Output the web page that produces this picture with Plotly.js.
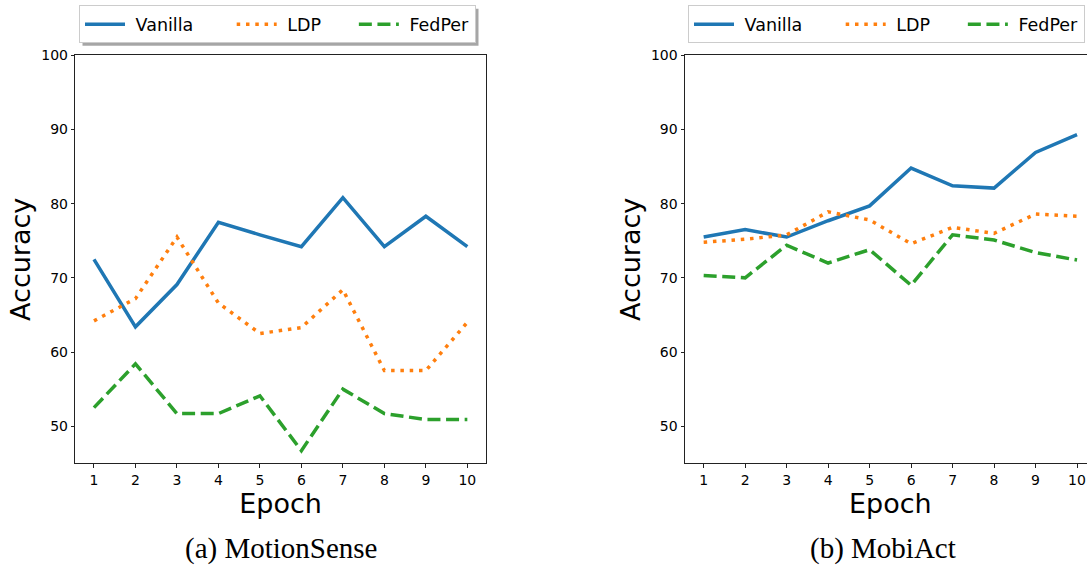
<!DOCTYPE html>
<html><head><meta charset="utf-8">
<script src="https://cdn.plot.ly/plotly-3.0.1.min.js"></script>
<style>html,body{margin:0;padding:0;overflow:hidden;background:#fff;width:1087px;height:567px}#chart{width:1100px;height:567px}</style>
</head><body><div id="chart"></div><script>
const epochs = [1, 2, 3, 4, 5, 6, 7, 8, 9, 10];
const seriesNames = ['Vanilla', 'LDP', 'FedPer'];
const motionVanilla = [72.5, 63.4, 69.1, 77.5, 75.8, 74.2, 80.8, 74.2, 78.3, 74.2];
const motionLDP = [64.2, 67.2, 75.5, 66.6, 62.5, 63.3, 68.4, 57.5, 57.5, 64.0];
const motionFedPer = [52.5, 58.4, 51.7, 51.7, 54.1, 46.7, 55.0, 51.7, 50.9, 50.9];
const mobiVanilla = [75.5, 76.5, 75.5, 77.7, 79.7, 84.8, 82.4, 82.1, 86.9, 89.3];
const mobiLDP = [74.8, 75.2, 75.8, 78.9, 77.8, 74.6, 76.8, 76.0, 78.6, 78.3];
const mobiFedPer = [70.3, 70.0, 74.4, 72.0, 73.8, 69.0, 75.8, 75.1, 73.4, 72.4];
const yTicks = [50, 60, 70, 80, 90, 100];
const captions = ['(a) MotionSense', '(b) MobiAct'];

const W = 1100, H = 567;
const colors = ['#1f77b4', '#ff7f0e', '#2ca02c'];
const dashes = ['solid', '3.5px,5.8px', '13px,5.6px'];
const NB = '\u00a0';
const padAfter = [NB.repeat(6), NB.repeat(5), ''];

function mk(x, ys, i, xa, ya, leg) {
  return {x: x, y: ys, type: 'scatter', mode: 'lines', name: NB + seriesNames[i] + padAfter[i],
    xaxis: xa, yaxis: ya, legend: leg,
    line: {color: colors[i], width: 3.5, dash: dashes[i]}};
}
const data = [
  mk(epochs, motionVanilla, 0, 'x', 'y', 'legend'),
  mk(epochs, motionLDP, 1, 'x', 'y', 'legend'),
  mk(epochs, motionFedPer, 2, 'x', 'y', 'legend'),
  mk(epochs, mobiVanilla, 0, 'x2', 'y2', 'legend2'),
  mk(epochs, mobiLDP, 1, 'x2', 'y2', 'legend2'),
  mk(epochs, mobiFedPer, 2, 'x2', 'y2', 'legend2')
];

const font = {family: 'DejaVu Sans', color: '#000'};
const yDom = [1 - 463.3 / H, 1 - 55.3 / H];
function xax(dom, anchor) {
  return {domain: dom, anchor: anchor, range: [0.55, 10.45], tickvals: epochs, ticks: 'outside',
    ticklen: 3.5, tickwidth: 1, tickcolor: '#222', showline: true, linecolor: '#222', linewidth: 1,
    mirror: true, showgrid: false, zeroline: false, tickfont: {family: 'DejaVu Sans', size: 14, color: '#000'},
    title: {text: 'Epoch', font: {family: 'DejaVu Sans', size: 27, color: '#000'}, standoff: 4}};
}
function yax(anchor) {
  return {domain: yDom, anchor: anchor, range: [45, 100], tickvals: yTicks, ticks: 'outside',
    ticklen: 3.5, tickwidth: 1, tickcolor: '#222', showline: true, linecolor: '#222', linewidth: 1,
    mirror: true, showgrid: false, zeroline: false, tickfont: {family: 'DejaVu Sans', size: 14, color: '#000'},
    title: {text: 'Accuracy', font: {family: 'DejaVu Sans', size: 27, color: '#000'}, standoff: 2}};
}
function leg(xpx) {
  return {x: xpx / W, y: 1 - 5.3 / H, xanchor: 'left', yanchor: 'top', orientation: 'h',
    bgcolor: '#ffffff', bordercolor: '#cccccc', borderwidth: 1, itemwidth: 40,
    font: {family: 'DejaVu Sans', size: 17.5, color: '#000'}};
}
const layout = {
  width: W, height: H, margin: {l: 0, r: 0, t: 0, b: 0},
  paper_bgcolor: '#fff', plot_bgcolor: '#fff', font: font,
  xaxis: xax([75.3 / W, 486 / W], 'y'),
  yaxis: yax('x'),
  xaxis2: xax([685 / W, 1095.7 / W], 'y2'),
  yaxis2: yax('x2'),
  legend: leg(79),
  legend2: leg(688),
  annotations: [
    {text: captions[0], xref: 'paper', yref: 'paper', x: 281.7 / W, y: 1 - 548 / H, xanchor: 'center', yanchor: 'middle',
      showarrow: false, font: {family: 'Liberation Serif', size: 29, color: '#000'}},
    {text: captions[1], xref: 'paper', yref: 'paper', x: 883 / W, y: 1 - 548 / H, xanchor: 'center', yanchor: 'middle',
      showarrow: false, font: {family: 'Liberation Serif', size: 29, color: '#000'}}
  ]
};
Plotly.newPlot('chart', data, layout, {displayModeBar: false, staticPlot: true}).then(function (gd) {
  // legend shadows placed from the legends' own rendered boxes
  const root = gd.getBoundingClientRect();
  const shapes = [];
  gd.querySelectorAll('.legend .bg').forEach(function (bg) {
    const r = bg.getBoundingClientRect();
    shapes.push({type: 'rect', xref: 'paper', yref: 'paper',
      x0: (r.left - root.left + 3) / W, x1: (r.right - root.left + 3) / W,
      y0: 1 - (r.bottom - root.top + 3) / H, y1: 1 - (r.top - root.top + 3) / H,
      fillcolor: 'rgba(0,0,0,0.35)', line: {width: 0}, layer: 'above'});
  });
  return Plotly.relayout(gd, {shapes: shapes});
});
</script></body></html>
